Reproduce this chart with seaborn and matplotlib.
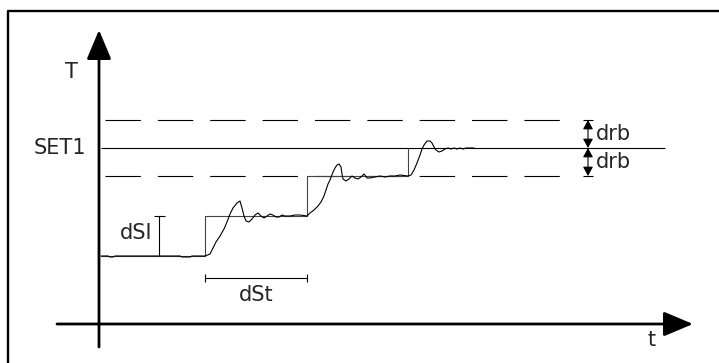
import seaborn as sns
import matplotlib.pyplot as plt
import pandas as pd

# values (t = time, T = temperature, arbitrary units)
proc_t = [2, 9, 11, 14, 16, 71, 81, 83, 91, 93, 106,
          111, 114, 117, 121, 125, 128, 131, 134, 138, 141, 143, 145, 147, 150,
          153, 156, 159, 162, 165, 168, 171, 174, 177, 180, 183, 186, 191, 196,
          201, 208,
          211, 215, 219, 222, 225, 227, 229, 231, 234, 236, 238, 240, 242, 243,
          244, 247, 250, 253, 256, 259, 262, 265, 268, 271, 276, 281, 286, 291,
          296, 301, 309,
          312, 315, 318, 321, 323, 325, 328, 331, 333, 335, 337, 340, 343, 346,
          349, 352, 355, 358, 361, 364, 367, 371, 375]
proc_T = [68, 68, 67, 67, 68, 68, 68, 67, 67, 68, 68,
          70, 76, 82, 88, 95, 102, 110, 116, 121, 123, 116, 108, 103, 102,
          105, 109, 111, 108, 106, 108, 110, 109, 107, 107, 109, 108, 108, 109,
          109, 108,
          111, 114, 118, 122, 128, 134, 140, 144, 152, 156, 159, 160, 157, 150,
          145, 143, 145, 148, 146, 145, 147, 150, 146, 146, 147, 148, 147, 148,
          148, 149, 148,
          149, 154, 161, 169, 175, 179, 183, 183, 181, 177, 174, 172, 173, 175,
          176, 175, 176, 175, 176, 175, 176, 176, 176]

setpoint_t = [2, 106, 208, 309]
setpoint_T = [68, 108, 148, 176]

SET1 = 176
DRB = 28
DSI_T = [68, 108]
DSI_POS = 60
DST_T = [106, 208]
DST_POS = 46

sns.set_theme(style="white")
plt.rcParams["font.family"] = ["DejaVu Sans"]
plt.rcParams["lines.scale_dashes"] = False

fig = plt.figure(figsize=(7.19, 3.63), dpi=100)
ax = fig.add_axes([0, 0, 1, 1])
ax.set_xlim(-99, 620)
ax.set_ylim(-39, 324)
ax.axis("off")

# outer frame (left and top edges)
ax.plot([8 / 719, 8 / 719, 1], [0, 1 - 11 / 363, 1 - 11 / 363],
        transform=ax.transAxes, color="black", lw=1.7, clip_on=False)

# set point and tolerance band
ax.hlines(SET1, 2, 566, color="black", lw=0.8)
ax.hlines([SET1 + DRB, SET1 - DRB], 6.4, 469, color="black", lw=0.8,
          linestyles=[(0, (25.5, 12.2))])

df_sp = pd.DataFrame({"t": setpoint_t, "T": setpoint_T})
sns.lineplot(data=df_sp, x="t", y="T", ax=ax, color="#444444", lw=0.8,
             drawstyle="steps-post", estimator=None, sort=False)

df = pd.DataFrame({"t": proc_t, "T": proc_T})
sns.lineplot(data=df, x="t", y="T", ax=ax, color="black", lw=0.8,
             estimator=None, sort=False)

# axes with arrows
axis_arrow = dict(arrowstyle="-|>,head_length=1.0,head_width=0.42",
                  mutation_scale=18, lw=2, color="black", shrinkA=0, shrinkB=0)
ax.annotate("", xy=(0, 294), xytext=(0, -23), arrowprops=axis_arrow)
ax.annotate("", xy=(594, 0), xytext=(-42, 0), arrowprops=axis_arrow)

# drb arrows
drb_arrow = dict(arrowstyle="<|-|>,head_length=0.55,head_width=0.3",
                 mutation_scale=10, lw=0.8, color="black", shrinkA=0, shrinkB=0)
ax.annotate("", xy=(489, SET1 + DRB), xytext=(489, SET1), arrowprops=drb_arrow)
ax.annotate("", xy=(489, SET1), xytext=(489, SET1 - DRB), arrowprops=drb_arrow)
ax.hlines([SET1 + DRB, SET1 - DRB], 484, 494, color="black", lw=0.8)

# dSI marker
ax.vlines(DSI_POS, DSI_T[0], DSI_T[1], color="black", lw=0.8)
ax.hlines(DSI_T[1], DSI_POS - 5, DSI_POS + 6, color="black", lw=0.8)

# dSt marker
ax.hlines(DST_POS, DST_T[0], DST_T[1], color="black", lw=0.8)
ax.vlines(DST_T, DST_POS - 4, DST_POS + 4, color="black", lw=0.8)

fs = 15
ax.text(-28, 252, "T", fontsize=fs, ha="center", va="center")
ax.text(-13, SET1, "SET1", fontsize=fs, ha="right", va="center")
ax.text(553, -16, "t", fontsize=fs, ha="center", va="center")
ax.text(37, 91, "dSI", fontsize=fs, ha="center", va="center")
ax.text(157, 29, "dSt", fontsize=fs, ha="center", va="center")
ax.text(497, SET1 + DRB / 2, "drb", fontsize=fs, ha="left", va="center")
ax.text(497, SET1 - DRB / 2, "drb", fontsize=fs, ha="left", va="center")

fig.savefig("out.png", dpi=100)
